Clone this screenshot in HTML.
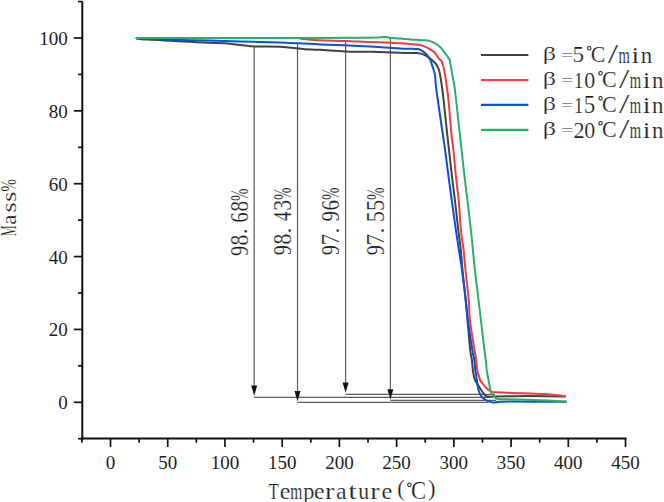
<!DOCTYPE html>
<html><head><meta charset="utf-8"><title>TGA curves</title>
<style>html,body{margin:0;padding:0;background:#fff;overflow:hidden}svg{display:block}text{font-family:"Liberation Serif",serif}</style>
</head><body>
<svg width="664" height="502" viewBox="0 0 664 502">
<rect width="664" height="502" fill="#fff"/>
<g stroke="#111" fill="none" stroke-width="2">
<line x1="82.3" y1="1.57" x2="82.3" y2="439.50"/>
<line x1="81.3" y1="438.5" x2="626.52" y2="438.5"/>
</g>
<g stroke="#111" fill="none" stroke-width="1.7">
<line x1="78.10" y1="438.73" x2="82.3" y2="438.73"/>
<line x1="73.80" y1="402.30" x2="82.3" y2="402.30"/>
<line x1="78.10" y1="365.87" x2="82.3" y2="365.87"/>
<line x1="73.80" y1="329.44" x2="82.3" y2="329.44"/>
<line x1="78.10" y1="293.01" x2="82.3" y2="293.01"/>
<line x1="73.80" y1="256.58" x2="82.3" y2="256.58"/>
<line x1="78.10" y1="220.15" x2="82.3" y2="220.15"/>
<line x1="73.80" y1="183.72" x2="82.3" y2="183.72"/>
<line x1="78.10" y1="147.29" x2="82.3" y2="147.29"/>
<line x1="73.80" y1="110.86" x2="82.3" y2="110.86"/>
<line x1="78.10" y1="74.43" x2="82.3" y2="74.43"/>
<line x1="73.80" y1="38.00" x2="82.3" y2="38.00"/>
<line x1="78.10" y1="1.57" x2="82.3" y2="1.57"/>
<line x1="81.89" y1="438.5" x2="81.89" y2="442.70"/>
<line x1="110.50" y1="438.5" x2="110.50" y2="447.00"/>
<line x1="139.11" y1="438.5" x2="139.11" y2="442.70"/>
<line x1="167.72" y1="438.5" x2="167.72" y2="447.00"/>
<line x1="196.34" y1="438.5" x2="196.34" y2="442.70"/>
<line x1="224.95" y1="438.5" x2="224.95" y2="447.00"/>
<line x1="253.56" y1="438.5" x2="253.56" y2="442.70"/>
<line x1="282.18" y1="438.5" x2="282.18" y2="447.00"/>
<line x1="310.79" y1="438.5" x2="310.79" y2="442.70"/>
<line x1="339.40" y1="438.5" x2="339.40" y2="447.00"/>
<line x1="368.01" y1="438.5" x2="368.01" y2="442.70"/>
<line x1="396.62" y1="438.5" x2="396.62" y2="447.00"/>
<line x1="425.24" y1="438.5" x2="425.24" y2="442.70"/>
<line x1="453.85" y1="438.5" x2="453.85" y2="447.00"/>
<line x1="482.46" y1="438.5" x2="482.46" y2="442.70"/>
<line x1="511.08" y1="438.5" x2="511.08" y2="447.00"/>
<line x1="539.69" y1="438.5" x2="539.69" y2="442.70"/>
<line x1="568.30" y1="438.5" x2="568.30" y2="447.00"/>
<line x1="596.91" y1="438.5" x2="596.91" y2="442.70"/>
<line x1="625.52" y1="438.5" x2="625.52" y2="447.00"/>
</g>
<g font-family="Liberation Serif" font-size="19" fill="#1e1e1e">
<text x="67.7" y="409.30" text-anchor="end">0</text>
<text x="67.7" y="336.44" text-anchor="end">20</text>
<text x="67.7" y="263.58" text-anchor="end">40</text>
<text x="67.7" y="190.72" text-anchor="end">60</text>
<text x="67.7" y="117.86" text-anchor="end">80</text>
<text x="67.7" y="45.00" text-anchor="end">100</text>
<text x="110.50" y="469" text-anchor="middle">0</text>
<text x="167.72" y="469" text-anchor="middle">50</text>
<text x="224.95" y="469" text-anchor="middle">100</text>
<text x="282.18" y="469" text-anchor="middle">150</text>
<text x="339.40" y="469" text-anchor="middle">200</text>
<text x="396.62" y="469" text-anchor="middle">250</text>
<text x="453.85" y="469" text-anchor="middle">300</text>
<text x="511.08" y="469" text-anchor="middle">350</text>
<text x="568.30" y="469" text-anchor="middle">400</text>
<text x="625.52" y="469" text-anchor="middle">450</text>
</g>
<g stroke="#5c5c5c" stroke-width="1.2" fill="none">
<line x1="254.2" y1="46.6" x2="254.2" y2="386.6"/>
<line x1="254.2" y1="397.4" x2="489.9" y2="397.4"/>
<line x1="297.5" y1="44.0" x2="297.5" y2="392.1"/>
<line x1="297.5" y1="402.4" x2="487.8" y2="402.4"/>
<line x1="345.6" y1="41.0" x2="345.6" y2="383.4"/>
<line x1="345.6" y1="394.3" x2="494.8" y2="394.3"/>
<line x1="390.4" y1="38.0" x2="390.4" y2="390.3"/>
<line x1="390.4" y1="400.4" x2="496.4" y2="400.4"/>
</g>
<g fill="#111" stroke="none">
<path d="M251.2,385.6 L257.2,385.6 L254.2,395.8 Z"/>
<path d="M294.5,391.1 L300.5,391.1 L297.5,401.4 Z"/>
<path d="M342.6,382.4 L348.6,382.4 L345.6,392.7 Z"/>
<path d="M387.4,389.3 L393.4,389.3 L390.4,399.5 Z"/>
</g>
<path d="M136.80,38.60 C137.67,38.72 139.80,39.12 142.00,39.30 C144.20,39.48 147.00,39.57 150.00,39.70 C153.00,39.83 156.67,39.92 160.00,40.10 C163.33,40.28 165.00,40.52 170.00,40.80 C175.00,41.08 183.33,41.47 190.00,41.80 C196.67,42.13 204.17,42.55 210.00,42.80 C215.83,43.05 219.17,42.83 225.00,43.30 C230.83,43.77 240.00,45.07 245.00,45.60 C250.00,46.13 249.17,46.30 255.00,46.50 C260.83,46.70 273.00,46.50 280.00,46.80 C287.00,47.10 292.83,47.88 297.00,48.30 C301.17,48.72 301.17,49.05 305.00,49.30 C308.83,49.55 313.33,49.45 320.00,49.80 C326.67,50.15 336.67,51.07 345.00,51.40 C353.33,51.73 360.00,51.55 370.00,51.80 C380.00,52.05 397.42,52.72 405.00,52.90 C412.58,53.08 412.83,52.78 415.50,52.90 C418.17,53.02 419.27,53.13 421.00,53.60 C422.73,54.07 424.50,54.95 425.90,55.70 C427.30,56.45 428.23,57.23 429.40,58.10 C430.57,58.97 431.85,59.97 432.90,60.90 C433.95,61.83 434.88,62.65 435.70,63.70 C436.52,64.75 437.22,66.03 437.80,67.20 C438.38,68.37 438.82,69.40 439.20,70.70 C439.58,72.00 439.68,72.62 440.10,75.00 C440.52,77.38 441.12,80.83 441.70,85.00 C442.28,89.17 442.67,91.67 443.60,100.00 C444.53,108.33 446.40,126.67 447.30,135.00 C448.20,143.33 448.15,142.50 449.00,150.00 C449.85,157.50 451.42,171.67 452.40,180.00 C453.38,188.33 453.92,191.67 454.90,200.00 C455.88,208.33 457.32,221.67 458.30,230.00 C459.28,238.33 460.10,243.33 460.80,250.00 C461.50,256.67 461.70,261.67 462.50,270.00 C463.30,278.33 464.77,291.67 465.60,300.00 C466.43,308.33 466.73,311.67 467.50,320.00 C468.27,328.33 469.47,343.33 470.20,350.00 C470.93,356.67 471.47,356.67 471.90,360.00 C472.33,363.33 472.50,367.50 472.80,370.00 C473.10,372.50 473.33,373.33 473.70,375.00 C474.07,376.67 474.28,378.33 475.00,380.00 C475.72,381.67 477.08,383.50 478.00,385.00 C478.92,386.50 479.75,387.83 480.50,389.00 C481.25,390.17 481.85,391.08 482.50,392.00 C483.15,392.92 483.65,393.75 484.40,394.50 C485.15,395.25 485.40,396.15 487.00,396.50 C488.60,396.85 490.17,396.63 494.00,396.60 C497.83,396.57 504.00,396.38 510.00,396.30 C516.00,396.22 520.83,396.05 530.00,396.10 C539.17,396.15 559.17,396.52 565.00,396.60" fill="none" stroke="#424242" stroke-width="2" stroke-linejoin="round" stroke-linecap="round"/>
<path d="M136.30,38.30 C146.92,38.27 174.05,38.15 200.00,38.10 C225.95,38.05 275.17,37.90 292.00,38.00 C308.83,38.10 296.33,38.32 301.00,38.70 C305.67,39.08 312.67,39.93 320.00,40.30 C327.33,40.67 336.67,40.60 345.00,40.90 C353.33,41.20 363.17,41.85 370.00,42.10 C376.83,42.35 380.17,42.17 386.00,42.40 C391.83,42.63 400.08,43.15 405.00,43.50 C409.92,43.85 412.60,44.15 415.50,44.50 C418.40,44.85 420.43,45.07 422.40,45.60 C424.37,46.13 425.90,47.00 427.30,47.70 C428.70,48.40 429.63,49.05 430.80,49.80 C431.97,50.55 433.25,51.17 434.30,52.20 C435.35,53.23 436.28,54.90 437.10,56.00 C437.92,57.10 438.43,57.88 439.20,58.80 C439.97,59.72 441.07,60.47 441.70,61.50 C442.33,62.53 442.43,62.75 443.00,65.00 C443.57,67.25 444.52,71.67 445.10,75.00 C445.68,78.33 445.93,80.83 446.50,85.00 C447.07,89.17 447.67,91.67 448.50,100.00 C449.33,108.33 450.68,126.67 451.50,135.00 C452.32,143.33 452.60,142.50 453.40,150.00 C454.20,157.50 455.42,171.67 456.30,180.00 C457.18,188.33 457.93,191.67 458.70,200.00 C459.47,208.33 460.08,221.67 460.90,230.00 C461.72,238.33 462.83,243.33 463.60,250.00 C464.37,256.67 464.65,261.67 465.50,270.00 C466.35,278.33 467.97,291.67 468.70,300.00 C469.43,308.33 468.93,311.67 469.90,320.00 C470.87,328.33 473.45,343.33 474.50,350.00 C475.55,356.67 475.77,356.67 476.20,360.00 C476.63,363.33 476.70,367.50 477.10,370.00 C477.50,372.50 478.08,373.33 478.60,375.00 C479.12,376.67 479.47,378.50 480.20,380.00 C480.93,381.50 481.97,382.67 483.00,384.00 C484.03,385.33 485.23,386.83 486.40,388.00 C487.57,389.17 488.83,390.30 490.00,391.00 C491.17,391.70 491.73,391.97 493.40,392.20 C495.07,392.43 497.23,392.28 500.00,392.40 C502.77,392.52 505.00,392.70 510.00,392.90 C515.00,393.10 523.33,393.32 530.00,393.60 C536.67,393.88 544.17,394.20 550.00,394.60 C555.83,395.00 562.50,395.77 565.00,396.00" fill="none" stroke="#f53b3b" stroke-width="2" stroke-linejoin="round" stroke-linecap="round"/>
<path d="M137.20,38.30 C138.50,38.33 142.53,38.38 145.00,38.50 C147.47,38.62 149.50,38.87 152.00,39.00 C154.50,39.13 157.00,39.18 160.00,39.30 C163.00,39.42 161.67,39.48 170.00,39.70 C178.33,39.92 198.33,40.32 210.00,40.60 C221.67,40.88 228.33,41.07 240.00,41.40 C251.67,41.73 270.00,42.28 280.00,42.60 C290.00,42.92 293.33,43.00 300.00,43.30 C306.67,43.60 312.50,44.07 320.00,44.40 C327.50,44.73 336.67,44.95 345.00,45.30 C353.33,45.65 363.17,46.13 370.00,46.50 C376.83,46.87 380.17,47.13 386.00,47.50 C391.83,47.87 400.67,48.50 405.00,48.70 C409.33,48.90 409.90,48.63 412.00,48.70 C414.10,48.77 416.10,48.87 417.60,49.10 C419.10,49.33 419.85,49.52 421.00,50.10 C422.15,50.68 423.45,51.73 424.50,52.60 C425.55,53.47 426.48,54.38 427.30,55.30 C428.12,56.22 428.75,56.93 429.40,58.10 C430.05,59.27 430.68,60.90 431.20,62.30 C431.72,63.70 432.05,65.10 432.50,66.50 C432.95,67.90 433.48,69.28 433.90,70.70 C434.32,72.12 434.68,72.62 435.00,75.00 C435.32,77.38 435.33,80.83 435.80,85.00 C436.27,89.17 436.62,91.67 437.80,100.00 C438.98,108.33 441.68,126.67 442.90,135.00 C444.12,143.33 444.08,142.50 445.10,150.00 C446.12,157.50 447.90,171.67 449.00,180.00 C450.10,188.33 450.55,191.67 451.70,200.00 C452.85,208.33 454.70,221.67 455.90,230.00 C457.10,238.33 457.88,243.33 458.90,250.00 C459.92,256.67 460.85,261.67 462.00,270.00 C463.15,278.33 464.82,291.67 465.80,300.00 C466.78,308.33 466.82,311.67 467.90,320.00 C468.98,328.33 471.23,343.33 472.30,350.00 C473.37,356.67 473.80,356.67 474.30,360.00 C474.80,363.33 474.98,367.50 475.30,370.00 C475.62,372.50 475.95,373.33 476.20,375.00 C476.45,376.67 476.58,378.33 476.80,380.00 C477.02,381.67 477.22,383.33 477.50,385.00 C477.78,386.67 478.08,388.50 478.50,390.00 C478.92,391.50 479.42,392.83 480.00,394.00 C480.58,395.17 481.17,396.08 482.00,397.00 C482.83,397.92 483.83,398.75 485.00,399.50 C486.17,400.25 487.67,401.02 489.00,401.50 C490.33,401.98 491.17,402.35 493.00,402.40 C494.83,402.45 497.17,401.93 500.00,401.80 C502.83,401.67 499.00,401.62 510.00,401.60 C521.00,401.58 556.67,401.68 566.00,401.70" fill="none" stroke="#0c4fdc" stroke-width="2" stroke-linejoin="round" stroke-linecap="round"/>
<path d="M136.90,38.00 C147.42,38.02 172.82,38.10 200.00,38.10 C227.18,38.10 271.67,38.07 300.00,38.00 C328.33,37.93 355.67,37.88 370.00,37.70 C384.33,37.52 382.67,36.88 386.00,36.90 C389.33,36.92 387.67,37.53 390.00,37.80 C392.33,38.07 396.67,38.22 400.00,38.50 C403.33,38.78 407.33,39.28 410.00,39.50 C412.67,39.72 413.50,39.68 416.00,39.80 C418.50,39.92 422.78,40.02 425.00,40.20 C427.22,40.38 427.83,40.48 429.30,40.90 C430.77,41.32 432.35,41.97 433.80,42.70 C435.25,43.43 436.80,44.43 438.00,45.30 C439.20,46.17 439.92,46.72 441.00,47.90 C442.08,49.08 443.33,50.83 444.50,52.40 C445.67,53.97 447.12,56.02 448.00,57.30 C448.88,58.58 449.37,58.82 449.80,60.10 C450.23,61.38 450.17,62.52 450.60,65.00 C451.03,67.48 451.80,71.67 452.40,75.00 C453.00,78.33 453.58,80.83 454.20,85.00 C454.82,89.17 455.15,91.67 456.10,100.00 C457.05,108.33 458.98,126.67 459.90,135.00 C460.82,143.33 460.77,142.50 461.60,150.00 C462.43,157.50 463.93,171.67 464.90,180.00 C465.87,188.33 466.40,191.67 467.40,200.00 C468.40,208.33 469.98,221.67 470.90,230.00 C471.82,238.33 472.23,243.33 472.90,250.00 C473.57,256.67 473.97,261.67 474.90,270.00 C475.83,278.33 477.50,291.67 478.50,300.00 C479.50,308.33 479.92,311.67 480.90,320.00 C481.88,328.33 483.58,343.33 484.40,350.00 C485.22,356.67 485.42,356.67 485.80,360.00 C486.18,363.33 486.40,367.50 486.70,370.00 C487.00,372.50 487.30,373.33 487.60,375.00 C487.90,376.67 488.20,378.33 488.50,380.00 C488.80,381.67 489.08,383.33 489.40,385.00 C489.72,386.67 489.98,388.50 490.40,390.00 C490.82,391.50 491.32,392.92 491.90,394.00 C492.48,395.08 493.15,395.75 493.90,396.50 C494.65,397.25 495.38,398.05 496.40,398.50 C497.42,398.95 497.73,399.07 500.00,399.20 C502.27,399.33 503.33,399.13 510.00,399.30 C516.67,399.47 530.67,399.85 540.00,400.20 C549.33,400.55 561.67,401.20 566.00,401.40" fill="none" stroke="#2aae68" stroke-width="2" stroke-linejoin="round" stroke-linecap="round"/>
<g stroke-width="2.1">
<line x1="481" y1="55.00" x2="528.4" y2="55.00" stroke="#424242"/>
<line x1="481" y1="79.95" x2="528.4" y2="79.95" stroke="#f53b3b"/>
<line x1="481" y1="104.90" x2="528.4" y2="104.90" stroke="#0c4fdc"/>
<line x1="481" y1="129.85" x2="528.4" y2="129.85" stroke="#2aae68"/>
</g>
<g font-family="Liberation Serif" fill="#1e1e1e" stroke="#fff" stroke-width="0.2">
<text font-size="19.19" transform="translate(542.82 59.51) scale(1.361 1)">β</text>
<text font-size="17.20" transform="translate(561.02 61.46) scale(1.262 1)">=</text>
<text font-size="23.93" transform="translate(572.56 62.37) scale(0.965 1)">5</text>
<circle cx="589.30" cy="48.25" r="1.7" fill="none" stroke="#1e1e1e" stroke-width="1.05"/>
<text font-size="23.96" transform="translate(590.69 62.37) scale(0.921 1)">C</text>
<text font-size="28.10" transform="translate(607.70 63.43) scale(1.332 1)">/</text>
<text font-size="23.56" transform="translate(618.49 62.70) scale(0.619 1)">m</text>
<text font-size="24.01" transform="translate(631.62 62.70) scale(1.156 1)">i</text>
<text font-size="23.56" transform="translate(640.87 62.70) scale(0.974 1)">n</text>
<text font-size="19.19" transform="translate(542.82 84.51) scale(1.361 1)">β</text>
<text font-size="17.20" transform="translate(561.02 86.46) scale(1.262 1)">=</text>
<text font-size="23.93" transform="translate(573.70 87.60) scale(0.807 1)">1</text>
<text font-size="23.86" transform="translate(584.36 87.57) scale(0.920 1)">0</text>
<circle cx="600.55" cy="73.25" r="1.7" fill="none" stroke="#1e1e1e" stroke-width="1.05"/>
<text font-size="23.96" transform="translate(601.94 87.37) scale(0.921 1)">C</text>
<text font-size="28.10" transform="translate(618.95 88.43) scale(1.332 1)">/</text>
<text font-size="23.56" transform="translate(629.74 87.70) scale(0.619 1)">m</text>
<text font-size="24.01" transform="translate(642.87 87.70) scale(1.156 1)">i</text>
<text font-size="23.56" transform="translate(652.12 87.70) scale(0.974 1)">n</text>
<text font-size="19.19" transform="translate(542.82 109.51) scale(1.361 1)">β</text>
<text font-size="17.20" transform="translate(561.02 111.46) scale(1.262 1)">=</text>
<text font-size="23.93" transform="translate(573.70 112.60) scale(0.807 1)">1</text>
<text font-size="24.23" transform="translate(583.86 112.56) scale(0.953 1)">5</text>
<circle cx="600.55" cy="98.25" r="1.7" fill="none" stroke="#1e1e1e" stroke-width="1.05"/>
<text font-size="23.96" transform="translate(601.94 112.37) scale(0.921 1)">C</text>
<text font-size="28.10" transform="translate(618.95 113.43) scale(1.332 1)">/</text>
<text font-size="23.56" transform="translate(629.74 112.70) scale(0.619 1)">m</text>
<text font-size="24.01" transform="translate(642.87 112.70) scale(1.156 1)">i</text>
<text font-size="23.56" transform="translate(652.12 112.70) scale(0.974 1)">n</text>
<text font-size="19.19" transform="translate(542.82 134.51) scale(1.361 1)">β</text>
<text font-size="17.20" transform="translate(561.02 136.46) scale(1.262 1)">=</text>
<text font-size="23.86" transform="translate(573.52 137.60) scale(0.930 1)">2</text>
<text font-size="23.86" transform="translate(584.36 137.57) scale(0.920 1)">0</text>
<circle cx="600.55" cy="123.25" r="1.7" fill="none" stroke="#1e1e1e" stroke-width="1.05"/>
<text font-size="23.96" transform="translate(601.94 137.37) scale(0.921 1)">C</text>
<text font-size="28.10" transform="translate(618.95 138.43) scale(1.332 1)">/</text>
<text font-size="23.56" transform="translate(629.74 137.70) scale(0.619 1)">m</text>
<text font-size="24.01" transform="translate(642.87 137.70) scale(1.156 1)">i</text>
<text font-size="23.56" transform="translate(652.12 137.70) scale(0.974 1)">n</text>
</g>
<g font-family="Liberation Serif" fill="#1e1e1e" stroke="#fff" stroke-width="0.2">
<text font-size="23.98" transform="translate(268.60 498.80) scale(0.702 1)">T</text>
<text font-size="23.49" transform="translate(279.77 498.77) scale(1.012 1)">e</text>
<text font-size="23.56" transform="translate(290.27 498.80) scale(0.659 1)">m</text>
<text font-size="23.54" transform="translate(303.34 498.79) scale(0.946 1)">p</text>
<text font-size="23.49" transform="translate(314.07 498.77) scale(1.012 1)">e</text>
<text font-size="23.56" transform="translate(325.03 498.80) scale(1.200 1)">r</text>
<text font-size="23.59" transform="translate(335.95 498.77) scale(1.019 1)">a</text>
<text font-size="23.57" transform="translate(348.20 498.77) scale(1.311 1)">t</text>
<text font-size="24.11" transform="translate(358.31 498.76) scale(0.901 1)">u</text>
<text font-size="23.56" transform="translate(370.13 498.80) scale(1.200 1)">r</text>
<text font-size="23.49" transform="translate(381.45 498.77) scale(1.035 1)">e</text>
<text font-size="22.06" transform="translate(397.32 496.20) scale(1.006 1)">(</text>
<text font-size="24.71" transform="translate(410.97 498.96) scale(0.915 1)">C</text>
<text font-size="22.06" transform="translate(427.97 496.20) scale(1.024 1)">)</text>
<circle cx="409.40" cy="484.80" r="1.7" fill="none" stroke="#1e1e1e" stroke-width="1.05"/>
</g>
<g transform="translate(15.9 236.0) rotate(-90)" font-family="Liberation Serif" fill="#1e1e1e" stroke="#fff" stroke-width="0.2">
<text font-size="22.30" transform="translate(-0.15 0.00) scale(0.550 1)">M</text>
<text font-size="21.92" transform="translate(11.20 -0.11) scale(1.039 1)">a</text>
<text font-size="21.42" transform="translate(23.42 -0.11) scale(1.227 1)">s</text>
<text font-size="21.42" transform="translate(34.11 -0.11) scale(1.242 1)">s</text>
<text font-size="22.71" transform="translate(44.59 0.00) scale(0.651 1)">%</text>
</g>
<g transform="translate(247.6 255.4) rotate(-90)" font-family="Liberation Serif" fill="#1e1e1e" stroke="#fff" stroke-width="0.2">
<text font-size="24.26" transform="translate(-0.65 -0.04) scale(0.831 1)">9</text>
<text font-size="24.16" transform="translate(9.97 -0.04) scale(0.899 1)">8</text>
<text font-size="23.70" transform="translate(21.04 -0.24) scale(1.000 1)">.</text>
<text font-size="24.26" transform="translate(32.69 -0.04) scale(0.868 1)">6</text>
<text font-size="24.16" transform="translate(43.99 -0.04) scale(0.879 1)">8</text>
<text font-size="24.18" transform="translate(54.70 -0.02) scale(0.606 1)">%</text>
</g>
<g transform="translate(290.9 254.5) rotate(-90)" font-family="Liberation Serif" fill="#1e1e1e" stroke="#fff" stroke-width="0.2">
<text font-size="24.26" transform="translate(-0.65 -0.04) scale(0.831 1)">9</text>
<text font-size="24.16" transform="translate(9.97 -0.04) scale(0.899 1)">8</text>
<text font-size="23.70" transform="translate(21.04 -0.24) scale(1.000 1)">.</text>
<text font-size="24.76" transform="translate(33.22 0.20) scale(0.782 1)">4</text>
<text font-size="24.26" transform="translate(43.76 -0.04) scale(0.898 1)">3</text>
<text font-size="24.18" transform="translate(54.70 -0.02) scale(0.606 1)">%</text>
</g>
<g transform="translate(339.0 254.5) rotate(-90)" font-family="Liberation Serif" fill="#1e1e1e" stroke="#fff" stroke-width="0.2">
<text font-size="24.26" transform="translate(-0.65 -0.04) scale(0.831 1)">9</text>
<text font-size="24.89" transform="translate(9.30 0.20) scale(0.912 1)">7</text>
<text font-size="23.70" transform="translate(21.04 -0.24) scale(1.000 1)">.</text>
<text font-size="24.26" transform="translate(32.92 -0.04) scale(0.869 1)">9</text>
<text font-size="24.26" transform="translate(43.89 -0.04) scale(0.868 1)">6</text>
<text font-size="24.18" transform="translate(54.70 -0.02) scale(0.606 1)">%</text>
</g>
<g transform="translate(383.79999999999995 254.5) rotate(-90)" font-family="Liberation Serif" fill="#1e1e1e" stroke="#fff" stroke-width="0.2">
<text font-size="24.26" transform="translate(-0.65 -0.04) scale(0.831 1)">9</text>
<text font-size="24.89" transform="translate(9.30 0.20) scale(0.912 1)">7</text>
<text font-size="23.70" transform="translate(21.04 -0.24) scale(1.000 1)">.</text>
<text font-size="24.53" transform="translate(32.30 -0.04) scale(0.911 1)">5</text>
<text font-size="24.53" transform="translate(43.50 -0.04) scale(0.911 1)">5</text>
<text font-size="24.18" transform="translate(54.70 -0.02) scale(0.606 1)">%</text>
</g>
</svg>
</body></html>
